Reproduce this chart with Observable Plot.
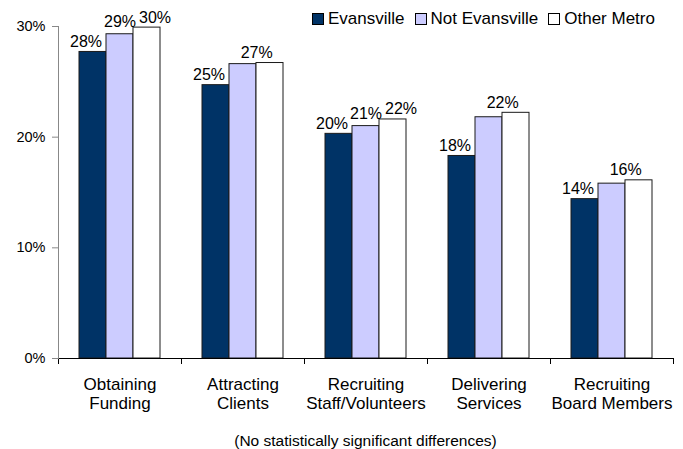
<!DOCTYPE html>
<html>
<head>
<meta charset="utf-8">
<script src="https://cdn.jsdelivr.net/npm/d3@7"></script>
<script src="https://cdn.jsdelivr.net/npm/@observablehq/plot@0.6"></script>
<style>
  html, body { margin: 0; padding: 0; background: #fff; }
  #wrap { position: relative; width: 683px; height: 449px; font-family: "Liberation Sans", Arial, sans-serif; color: #000; }
  #legend { position: absolute; left: 312px; top: 9px; display: flex; align-items: center; font-size: 17px; line-height: 20px; }
  #legend .item { display: flex; align-items: center; margin-right: 10px; }
  #legend .sw { width: 12px; height: 12px; border: 1px solid #000; margin-right: 4px; box-sizing: border-box; }
  #caption { position: absolute; left: 56px; width: 619px; top: 432px; text-align: center; font-size: 15.5px; line-height: 18px; }
  #chart { position: absolute; left: 0; top: 0; }
</style>
</head>
<body>
<div id="wrap">
  <div id="chart"></div>
  <div id="legend"></div>
  <div id="caption"></div>
</div>
<script>
const categories = ["Obtaining Funding", "Attracting Clients", "Recruiting Staff/Volunteers", "Delivering Services", "Recruiting Board Members"];
const tickLabels = ["Obtaining\nFunding", "Attracting\nClients", "Recruiting\nStaff/Volunteers", "Delivering\nServices", "Recruiting\nBoard Members"];
const series = ["Evansville", "Not Evansville", "Other Metro"];
const evansville = [0.277, 0.247, 0.203, 0.183, 0.144];
const notEvansville = [0.293, 0.266, 0.210, 0.218, 0.158];
const otherMetro = [0.299, 0.267, 0.216, 0.222, 0.161];
const colors = ["#003366", "#CCCCFF", "#FFFFFF"];
const yTicks = [0, 0.1, 0.2, 0.3];
const captionText = "(No statistically significant differences)";

const fmt = d3.format(".0%");
const seriesValues = [evansville, notEvansville, otherMetro];
const data = categories.flatMap((c, i) => series.map((s, j) => ({category: c, series: s, value: seriesValues[j][i]})));

const evRows = data.filter(d => d.series === series[0]);
const sameIdx = categories.map((c, i) => fmt(notEvansville[i]) === fmt(otherMetro[i]));
const neRows = data.filter(d => d.series === series[1] && !sameIdx[categories.indexOf(d.category)]);
const omRows = data.filter(d => d.series === series[2] && !sameIdx[categories.indexOf(d.category)]);
const mergedRows = categories
  .map((c, i) => ({category: c, series: series[1], value: Math.max(notEvansville[i], otherMetro[i])}))
  .filter((d, i) => sameIdx[i]);

const chart = Plot.plot({
  width: 683,
  height: 425,
  marginTop: 26,
  marginBottom: 67,
  marginLeft: 56,
  marginRight: 8,
  style: {fontFamily: "'Liberation Sans', Arial, sans-serif", fontSize: "15px", color: "#000", background: "#fff"},
  fx: {domain: categories, padding: 0, label: null},
  x: {domain: series, paddingInner: 0, paddingOuter: 0.76, axis: null},
  y: {domain: [0, 0.3], label: null},
  color: {domain: series, range: colors},
  marks: [
    Plot.barY(data, {fx: "category", x: "series", y: "value", fill: "series", stroke: "#1a1a1a", strokeWidth: 1}),
    Plot.ruleY([0], {stroke: "#000", strokeWidth: 1}),
    Plot.frame({anchor: "left", stroke: "#000", insetTop: 332, insetBottom: -5}),
    Plot.frame({anchor: "right", stroke: "#000", insetTop: 332, insetBottom: -5}),
    Plot.frame({anchor: "left", facet: "super", stroke: "#888"}),
    Plot.axisY({ticks: yTicks, tickFormat: fmt, tickSize: 6, tickPadding: 7, stroke: "#888", fill: "#000", fontSize: 14.5, label: null}),
    Plot.axisFx({anchor: "bottom", tickSize: 0, tickPadding: 18, tickFormat: d => tickLabels[categories.indexOf(d)], fontSize: 17, lineHeight: 1.13, fill: "#000", label: null}),
    Plot.text(evRows, {fx: "category", x: "series", y: "value", text: d => fmt(d.value), lineAnchor: "bottom", dy: -5, dx: -7, fontSize: 16, fill: "#000"}),
    Plot.text(neRows, {fx: "category", x: "series", y: "value", text: d => fmt(d.value), lineAnchor: "bottom", dy: -7, dx: 0, fontSize: 16, fill: "#000"}),
    Plot.text(omRows, {fx: "category", x: "series", y: "value", text: d => fmt(d.value), lineAnchor: "bottom", dy: -5, dx: 8, fontSize: 16, fill: "#000"}),
    Plot.text(mergedRows, {fx: "category", x: "series", y: "value", text: d => fmt(d.value), lineAnchor: "bottom", dy: -5, dx: 13.7, fontSize: 16, fill: "#000"})
  ]
});
document.getElementById("chart").appendChild(chart);

const legend = document.getElementById("legend");
series.forEach((s, j) => {
  const item = document.createElement("div");
  item.className = "item";
  const sw = document.createElement("span");
  sw.className = "sw";
  sw.style.background = colors[j];
  const t = document.createElement("span");
  t.textContent = s;
  item.appendChild(sw);
  item.appendChild(t);
  legend.appendChild(item);
});
document.getElementById("caption").textContent = captionText;
</script>
</body>
</html>
